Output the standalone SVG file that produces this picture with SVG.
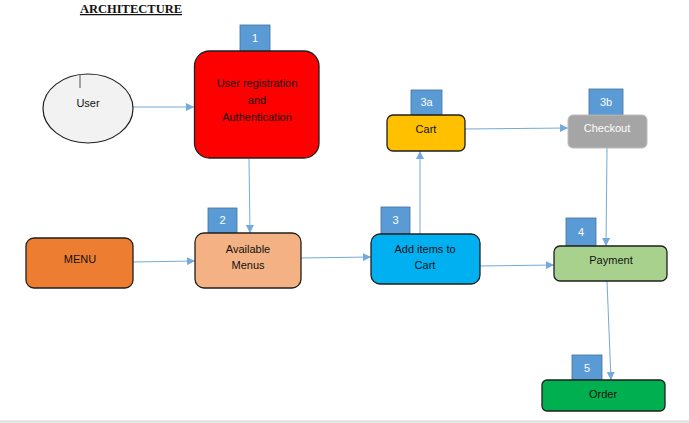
<svg xmlns="http://www.w3.org/2000/svg" width="689" height="423" viewBox="0 0 689 423">
<style>
.box{stroke:#1f1f1f;stroke-width:1.3}
.badge{fill:#5B9BD5;stroke:#41719C;stroke-width:0.8}
.bt{font-family:"Liberation Sans",Arial,sans-serif;font-size:11px;fill:#fff;text-anchor:middle}
.t{font-family:"Liberation Sans",Arial,sans-serif;font-size:11px;fill:#111;text-anchor:middle}
.c{stroke:#5B9BD5;stroke-width:1;fill:none;marker-end:url(#ah);opacity:0.85}
</style>
<defs>
<marker id="ah" viewBox="0 0 10 10" refX="10" refY="5" markerWidth="8" markerHeight="8" markerUnits="userSpaceOnUse" orient="auto">
<path d="M0,0 L10,5 L0,10 z" fill="#5B9BD5"/>
</marker>
</defs>
<rect width="689" height="423" fill="#fff"/>
<text x="131" y="13" font-family="Liberation Serif,serif" font-size="12.5" font-weight="bold" text-anchor="middle" text-decoration="underline" fill="#111">ARCHITECTURE</text>
<line x1="0" y1="421.5" x2="689" y2="421.5" stroke="#dcdcdc" stroke-width="2"/>

<g id="connectors">
<line class="c" x1="133" y1="107" x2="194" y2="107"/>
<line class="c" x1="249" y1="159" x2="250" y2="233"/>
<line class="c" x1="133" y1="262" x2="195" y2="261"/>
<line class="c" x1="301" y1="258" x2="371" y2="257"/>
<line class="c" x1="420" y1="234" x2="420" y2="151"/>
<line class="c" x1="465" y1="129" x2="568" y2="128"/>
<line class="c" x1="607" y1="148" x2="606" y2="246"/>
<line class="c" x1="480" y1="266" x2="554" y2="265"/>
<line class="c" x1="607" y1="281" x2="611" y2="380"/>
</g>

<g id="user">
<ellipse cx="88" cy="108.5" rx="45" ry="34.5" fill="#F2F2F2" stroke="#1f1f1f" stroke-width="1.2"/>
<line x1="80" y1="74" x2="80" y2="88" stroke="#555" stroke-width="1"/>
<text class="t" x="88" y="107">User</text>
</g>

<g id="auth">
<rect class="badge" x="240" y="25" width="30" height="27"/>
<text class="bt" x="255" y="42">1</text>
<rect class="box" x="194.5" y="51" width="124.5" height="107" rx="15" fill="#FF0000"/>
<text class="t" x="257" y="87">User registration</text>
<text class="t" x="257" y="104">and</text>
<text class="t" x="257" y="121">Authentication</text>
</g>

<g id="menu">
<rect class="box" x="26" y="238" width="107" height="50" rx="8" fill="#ED7D31"/>
<text class="t" x="80" y="263">MENU</text>
</g>

<g id="available">
<rect class="badge" x="208" y="208" width="29" height="25"/>
<text class="bt" x="222.5" y="224">2</text>
<rect class="box" x="195" y="233" width="106" height="55" rx="9" fill="#F4B183"/>
<text class="t" x="248" y="253">Available</text>
<text class="t" x="248" y="269">Menus</text>
</g>

<g id="additems">
<rect class="badge" x="381" y="207" width="29" height="27"/>
<text class="bt" x="395.5" y="224">3</text>
<rect class="box" x="371" y="234" width="109" height="50" rx="9" fill="#00B0F0"/>
<text class="t" x="425" y="253">Add items to</text>
<text class="t" x="425" y="269">Cart</text>
</g>

<g id="cart">
<rect class="badge" x="411" y="90" width="31" height="25"/>
<text class="bt" x="426.5" y="106">3a</text>
<rect class="box" x="387" y="115" width="78" height="36" rx="6" fill="#FFC000"/>
<text class="t" x="426" y="133">Cart</text>
</g>

<g id="checkout">
<rect class="badge" x="589" y="89" width="34" height="26"/>
<text class="bt" x="606" y="106">3b</text>
<rect x="568" y="115" width="79" height="33" rx="5" fill="#A5A5A5" stroke="#bdbdbd" stroke-width="1"/>
<text class="bt" x="607" y="132" font-size="11.5">Checkout</text>
</g>

<g id="payment">
<rect class="badge" x="566" y="218" width="30" height="28"/>
<text class="bt" x="581" y="236">4</text>
<rect class="box" x="554" y="246" width="113" height="35" rx="6" fill="#A9D18E"/>
<text class="t" x="611" y="264">Payment</text>
</g>

<g id="order">
<rect class="badge" x="572" y="355" width="30" height="25"/>
<text class="bt" x="587" y="372">5</text>
<rect class="box" x="542" y="380" width="123" height="31" rx="5" fill="#00B050"/>
<text class="t" x="603" y="398">Order</text>
</g>
</svg>
